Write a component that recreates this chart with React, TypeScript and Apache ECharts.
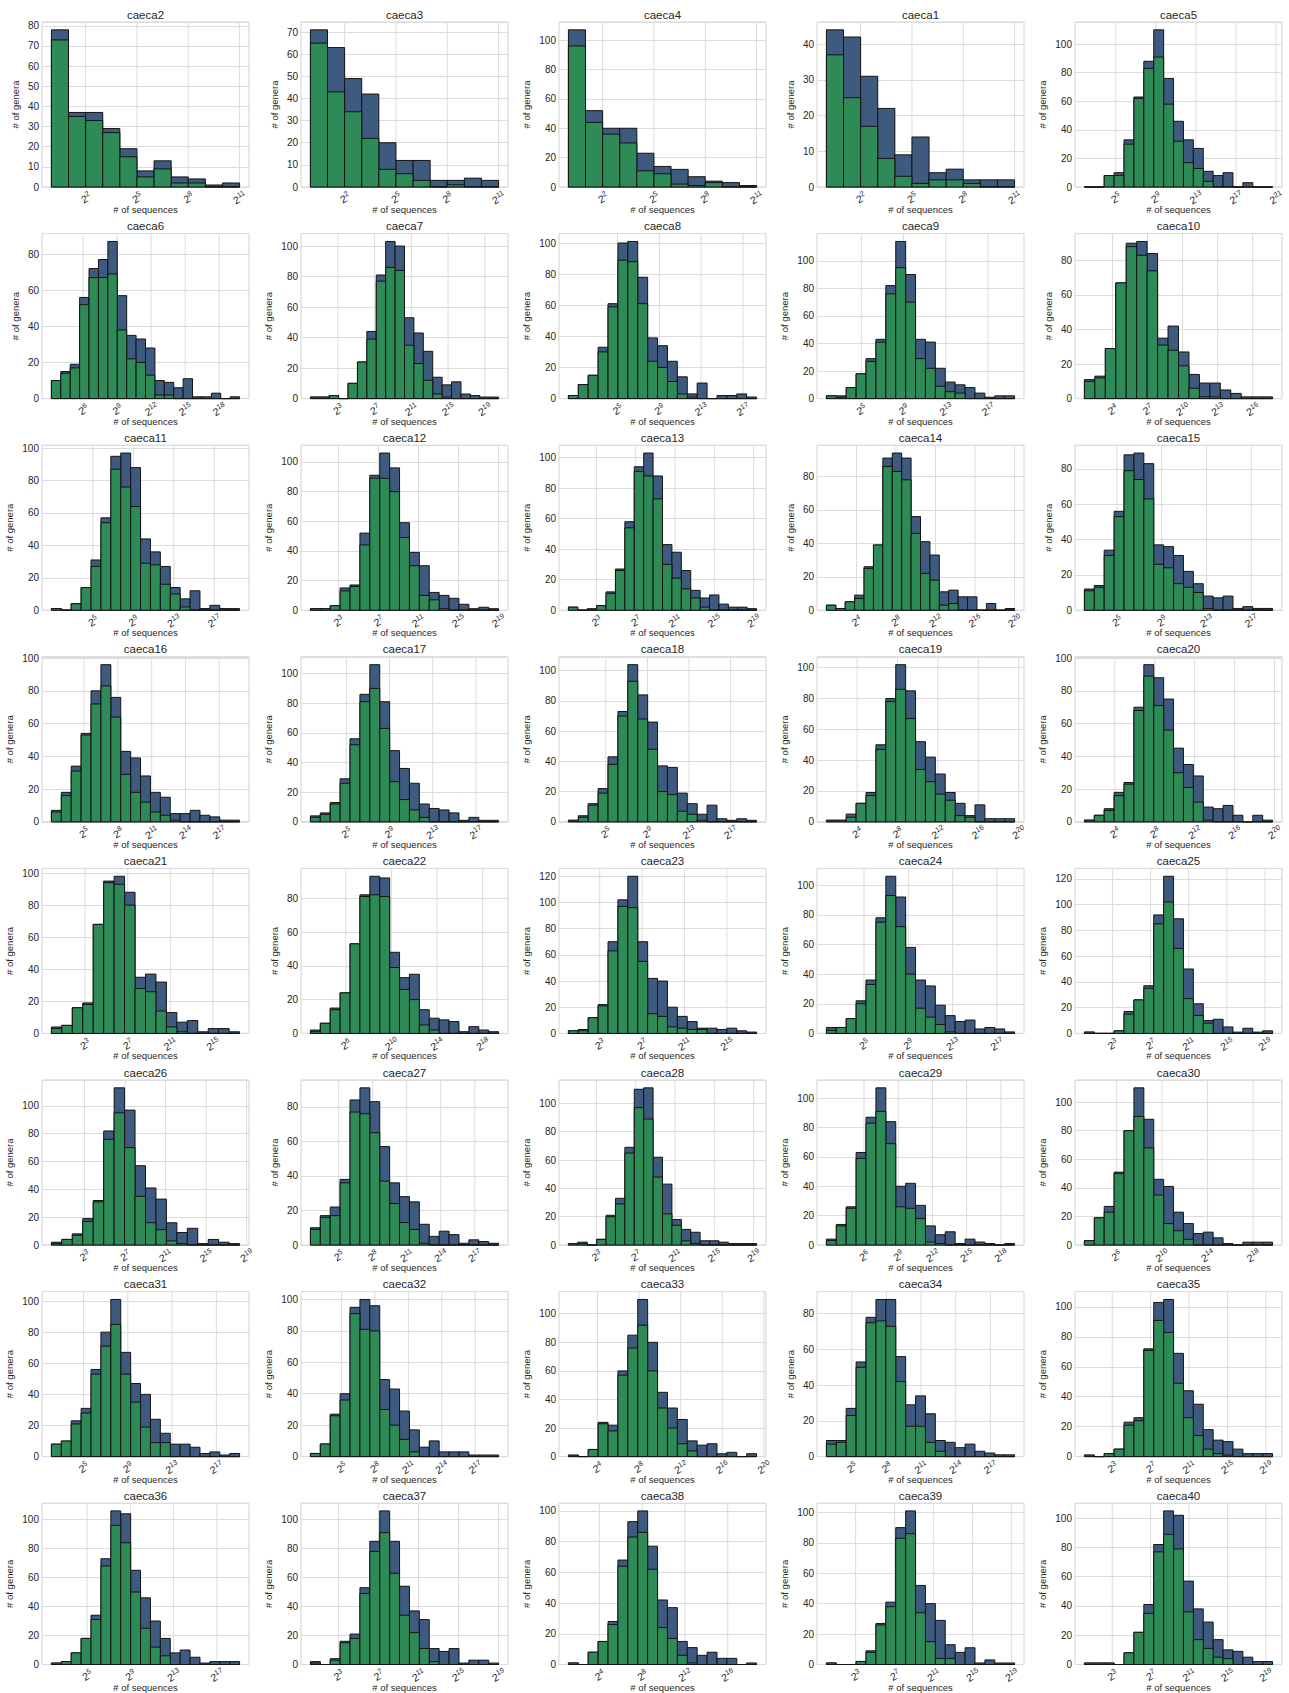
import React, { useEffect, useRef } from "react";
import * as echarts from "echarts";

// ---------------- data ----------------
const panelNames = [
  "caeca2", "caeca3", "caeca4", "caeca1", "caeca5",
  "caeca6", "caeca7", "caeca8", "caeca9", "caeca10",
  "caeca11", "caeca12", "caeca13", "caeca14", "caeca15",
  "caeca16", "caeca17", "caeca18", "caeca19", "caeca20",
  "caeca21", "caeca22", "caeca23", "caeca24", "caeca25",
  "caeca26", "caeca27", "caeca28", "caeca29", "caeca30",
  "caeca31", "caeca32", "caeca33", "caeca34", "caeca35",
  "caeca36", "caeca37", "caeca38", "caeca39", "caeca40",
];

// log2 of the lowest / highest bin edge of each panel
const binLo = [0, 0, 0, 0, 1.87, 3.2, 0, 0.3, 1.7, 1.6, 0.9, 0.2, 0.15, 0.96, 2.1, 2.1, 1.67, 1.4, 0.96, 0.96,
  -0.16, 2.9, 0.05, 1.6, 0.06, -0.26, 2.5, 0.15, 2.7, 3.2, 2.1, 2.2, 1.2, 2.8, 0.1, 1.7, 0.2, 1.1, 0, 0.1];
const binHi = [11, 11, 11, 11, 20.65, 19.8, 20.5, 18.3, 19.5, 17.7, 19.5, 19, 19.3, 20, 18.9, 18.8, 19.1, 19.5, 19.6, 19.8,
  17.5, 19.4, 17.8, 18.6, 19.8, 18.3, 19.1, 19.3, 19.2, 19.7, 19.1, 19.1, 19.3, 19.1, 19.7, 19.1, 19, 18.7, 19.3, 19.7];

// x tick labels: first labelled power of two and spacing between labels
const tickFirst = [2, 2, 2, 2, 5, 6, 3, 5, 5, 4, 5, 3, 3, 4, 5, 5, 5, 5, 4, 4, 3, 6, 3, 5, 3, 3, 5, 3, 6, 6, 5, 5, 4, 5, 3, 5, 3, 4, 3, 3];
const tickStep = [3, 3, 3, 3, 4, 3, 4, 4, 4, 3, 4, 4, 4, 4, 4, 3, 4, 4, 4, 4, 4, 4, 4, 4, 4, 4, 3, 4, 3, 4, 4, 3, 4, 3, 4, 4, 4, 4, 4, 4];

// counts per bin: all genera (blue) and subset (green)
const caeca2All = [78, 37, 37, 29, 19, 8, 13, 5, 4, 1, 2];
const caeca2Sub = [73, 35, 33, 27, 15, 5, 9, 2, 2, 0, 0];
const caeca3All = [71, 63, 49, 42, 20, 12, 12, 3, 3, 4, 3];
const caeca3Sub = [65, 43, 34, 22, 8, 6, 3, 0, 1, 0, 0];
const caeca4All = [107, 52, 40, 40, 23, 14, 12, 7, 4, 3, 1];
const caeca4Sub = [96, 44, 36, 30, 11, 9, 2, 1, 3, 0, 0];
const caeca1All = [44, 42, 31, 22, 9, 14, 4, 5, 2, 2, 2];
const caeca1Sub = [37, 25, 17, 8, 3, 1, 2, 2, 1, 0, 0];
const caeca5All = [0, 0, 8, 10, 33, 63, 88, 110, 76, 46, 33, 27, 11, 8, 10, 0, 3, 0, 0];
const caeca5Sub = [0, 0, 8, 8, 30, 62, 83, 91, 58, 32, 17, 13, 4, 0, 0, 0, 0, 0, 0];
const caeca6All = [10, 15, 19, 56, 72, 77, 87, 57, 35, 33, 28, 10, 9, 6, 11, 1, 1, 3, 0, 1];
const caeca6Sub = [10, 14, 17, 52, 67, 67, 69, 38, 22, 20, 13, 2, 2, 0, 0, 0, 0, 0, 0, 0];
const caeca7All = [1, 1, 2, 0, 10, 24, 44, 81, 103, 100, 53, 43, 31, 14, 9, 11, 3, 2, 1, 1];
const caeca7Sub = [1, 1, 2, 0, 10, 24, 39, 77, 86, 84, 35, 23, 12, 3, 1, 0, 0, 0, 0, 0];
const caeca8All = [2, 9, 15, 33, 61, 100, 101, 78, 39, 34, 24, 14, 3, 10, 0, 2, 2, 3, 1];
const caeca8Sub = [2, 9, 15, 30, 59, 89, 88, 61, 24, 20, 11, 3, 1, 0, 0, 0, 0, 0, 0];
const caeca9All = [2, 2, 8, 18, 29, 43, 82, 114, 90, 43, 41, 22, 12, 10, 8, 4, 1, 2, 2];
const caeca9Sub = [2, 1, 8, 18, 27, 41, 76, 95, 70, 29, 22, 9, 5, 4, 0, 0, 0, 0, 0];
const caeca10All = [11, 13, 29, 67, 90, 91, 84, 35, 42, 27, 14, 9, 9, 5, 3, 1, 1, 1];
const caeca10Sub = [10, 12, 29, 67, 88, 83, 74, 31, 28, 19, 6, 1, 1, 0, 0, 0, 0, 0];
const caeca11All = [1, 0, 4, 14, 31, 57, 95, 97, 88, 44, 36, 27, 14, 7, 12, 1, 3, 1, 1];
const caeca11Sub = [1, 0, 4, 14, 27, 54, 87, 76, 64, 29, 28, 16, 10, 2, 0, 0, 0, 0, 0];
const caeca12All = [1, 1, 3, 15, 17, 52, 91, 106, 96, 59, 39, 30, 12, 10, 8, 4, 1, 2, 1];
const caeca12Sub = [1, 1, 3, 13, 16, 44, 89, 89, 80, 49, 30, 10, 7, 1, 0, 0, 0, 0, 0];
const caeca13All = [2, 0, 1, 3, 12, 27, 58, 94, 103, 88, 43, 38, 26, 13, 8, 10, 4, 2, 2, 1];
const caeca13Sub = [2, 0, 0, 3, 11, 26, 54, 91, 88, 73, 30, 21, 14, 8, 2, 0, 0, 0, 0, 0];
const caeca14All = [3, 1, 5, 9, 26, 39, 91, 94, 91, 56, 41, 33, 11, 12, 8, 8, 0, 4, 0, 1];
const caeca14Sub = [3, 1, 5, 7, 25, 39, 86, 83, 78, 46, 22, 18, 3, 4, 0, 0, 0, 0, 0, 0];
const caeca15All = [12, 14, 34, 56, 88, 89, 83, 37, 36, 31, 22, 15, 8, 7, 8, 1, 2, 1, 1];
const caeca15Sub = [11, 13, 31, 53, 79, 74, 63, 26, 24, 15, 13, 10, 1, 0, 0, 0, 0, 0, 0];
const caeca16All = [7, 18, 34, 54, 80, 96, 76, 43, 39, 28, 18, 15, 5, 5, 7, 4, 3, 1, 1];
const caeca16Sub = [6, 16, 31, 53, 72, 83, 64, 29, 18, 12, 6, 4, 1, 0, 0, 0, 0, 0, 0];
const caeca17All = [4, 6, 13, 29, 56, 86, 106, 81, 48, 36, 26, 12, 9, 8, 6, 1, 3, 1, 1];
const caeca17Sub = [3, 5, 12, 26, 52, 81, 90, 63, 27, 15, 8, 3, 0, 0, 0, 0, 0, 0, 0];
const caeca18All = [1, 4, 12, 22, 43, 73, 104, 84, 66, 37, 36, 19, 12, 5, 11, 2, 1, 2, 1];
const caeca18Sub = [1, 3, 11, 19, 38, 70, 93, 68, 48, 20, 18, 7, 5, 1, 0, 0, 0, 0, 0];
const caeca19All = [1, 1, 5, 12, 19, 50, 80, 102, 85, 52, 42, 31, 19, 12, 4, 11, 2, 2, 2];
const caeca19Sub = [1, 1, 3, 12, 17, 47, 78, 86, 67, 34, 26, 18, 14, 4, 3, 0, 0, 0, 0];
const caeca20All = [1, 4, 8, 18, 24, 70, 96, 88, 75, 45, 35, 28, 9, 8, 10, 4, 0, 4, 1];
const caeca20Sub = [1, 4, 7, 16, 23, 68, 89, 71, 56, 30, 21, 12, 1, 0, 0, 0, 0, 0, 0];
const caeca21All = [4, 5, 16, 19, 68, 95, 98, 88, 35, 37, 32, 13, 7, 8, 1, 3, 3, 1];
const caeca21Sub = [3, 5, 16, 18, 68, 94, 93, 80, 28, 26, 14, 4, 1, 0, 0, 0, 0, 0];
const caeca22All = [2, 6, 15, 24, 53, 82, 93, 92, 48, 33, 35, 14, 9, 8, 7, 1, 4, 2, 1];
const caeca22Sub = [1, 6, 14, 24, 53, 81, 82, 81, 39, 26, 20, 5, 2, 0, 0, 0, 0, 0, 0];
const caeca23All = [2, 3, 12, 22, 70, 102, 120, 70, 42, 40, 20, 13, 9, 4, 4, 3, 4, 2, 1];
const caeca23Sub = [2, 2, 12, 21, 63, 97, 96, 55, 15, 13, 5, 4, 3, 3, 0, 0, 0, 0, 0];
const caeca24All = [4, 4, 10, 22, 36, 78, 106, 92, 58, 36, 32, 19, 12, 8, 9, 3, 4, 3, 1];
const caeca24Sub = [2, 4, 10, 20, 33, 75, 93, 72, 40, 17, 11, 6, 1, 0, 0, 0, 0, 0, 0];
const caeca25All = [1, 0, 0, 2, 17, 26, 37, 92, 122, 89, 50, 23, 10, 11, 5, 1, 4, 1, 2];
const caeca25Sub = [1, 0, 0, 2, 15, 26, 35, 85, 102, 66, 27, 14, 8, 0, 0, 0, 0, 0, 0];
const caeca26All = [2, 4, 8, 19, 32, 82, 113, 97, 57, 41, 33, 16, 9, 12, 1, 4, 2, 1];
const caeca26Sub = [1, 4, 7, 17, 31, 76, 95, 70, 35, 16, 11, 3, 1, 0, 0, 0, 0, 0];
const caeca27All = [10, 17, 22, 38, 84, 91, 83, 57, 36, 28, 25, 12, 5, 8, 6, 1, 3, 2, 1];
const caeca27Sub = [9, 16, 17, 36, 77, 76, 65, 37, 24, 13, 9, 1, 0, 0, 0, 0, 0, 0, 0];
const caeca28All = [1, 2, 0, 4, 21, 33, 69, 110, 111, 62, 43, 18, 11, 9, 3, 3, 2, 1, 1, 1];
const caeca28Sub = [1, 1, 0, 4, 20, 29, 65, 97, 89, 48, 22, 14, 3, 1, 0, 0, 0, 0, 0, 0];
const caeca29All = [4, 14, 26, 63, 87, 107, 84, 40, 42, 27, 13, 7, 9, 1, 4, 2, 1, 0, 1];
const caeca29Sub = [3, 13, 25, 59, 83, 91, 69, 26, 25, 18, 2, 1, 0, 0, 0, 0, 0, 0, 0];
const caeca30All = [3, 19, 27, 51, 80, 110, 88, 46, 41, 23, 15, 8, 9, 5, 1, 0, 2, 2, 2];
const caeca30Sub = [3, 19, 23, 50, 80, 90, 68, 35, 15, 10, 4, 0, 0, 0, 0, 0, 0, 0, 0];
const caeca31All = [8, 10, 23, 31, 56, 80, 101, 67, 47, 40, 24, 15, 8, 8, 6, 2, 3, 1, 2];
const caeca31Sub = [8, 10, 21, 28, 53, 71, 85, 53, 35, 19, 9, 9, 0, 0, 0, 0, 0, 0, 0];
const caeca32All = [2, 8, 27, 40, 95, 100, 96, 49, 43, 29, 17, 6, 10, 3, 3, 3, 1, 1, 1];
const caeca32Sub = [2, 8, 26, 36, 91, 81, 80, 30, 20, 11, 3, 0, 0, 0, 0, 0, 0, 0, 0];
const caeca33All = [1, 0, 5, 24, 22, 60, 85, 110, 80, 45, 34, 26, 11, 8, 9, 2, 3, 0, 2];
const caeca33Sub = [1, 0, 5, 23, 18, 57, 76, 92, 60, 34, 20, 9, 4, 0, 0, 0, 0, 0, 0];
const caeca34All = [9, 9, 27, 53, 78, 88, 88, 56, 29, 34, 24, 9, 8, 5, 7, 3, 2, 1, 1];
const caeca34Sub = [7, 8, 23, 50, 75, 76, 73, 42, 17, 17, 8, 3, 0, 0, 0, 0, 0, 0, 0];
const caeca35All = [1, 0, 2, 5, 23, 26, 72, 103, 105, 69, 44, 35, 18, 11, 10, 5, 2, 2, 2];
const caeca35Sub = [1, 0, 2, 5, 21, 24, 71, 91, 83, 49, 26, 14, 5, 2, 1, 0, 0, 0, 0];
const caeca36All = [1, 2, 8, 18, 34, 73, 106, 104, 65, 46, 30, 18, 8, 10, 5, 1, 2, 2, 2];
const caeca36Sub = [1, 2, 8, 18, 31, 68, 96, 84, 50, 25, 12, 6, 0, 0, 0, 0, 0, 0, 0];
const caeca37All = [2, 0, 4, 16, 21, 53, 85, 106, 85, 54, 37, 31, 11, 9, 11, 1, 3, 3, 1];
const caeca37Sub = [1, 0, 3, 15, 18, 49, 78, 91, 63, 34, 22, 11, 2, 0, 0, 0, 0, 0, 0];
const caeca38All = [1, 0, 8, 15, 28, 68, 93, 100, 77, 42, 37, 15, 11, 6, 8, 4, 4, 0, 1];
const caeca38Sub = [1, 0, 8, 15, 26, 64, 83, 86, 62, 24, 17, 6, 1, 0, 0, 0, 0, 0, 0];
const caeca39All = [1, 0, 0, 2, 9, 27, 41, 90, 101, 52, 40, 29, 13, 8, 11, 1, 3, 1, 1];
const caeca39Sub = [1, 0, 0, 2, 8, 26, 38, 83, 86, 34, 15, 4, 4, 0, 0, 0, 0, 0, 0];
const caeca40All = [1, 1, 1, 0, 8, 22, 41, 82, 105, 102, 57, 38, 29, 17, 10, 9, 5, 2, 2];
const caeca40Sub = [1, 1, 1, 0, 8, 22, 35, 77, 89, 79, 36, 17, 11, 5, 4, 0, 0, 0, 0];

const allCounts = [
  caeca2All, caeca3All, caeca4All, caeca1All, caeca5All,
  caeca6All, caeca7All, caeca8All, caeca9All, caeca10All,
  caeca11All, caeca12All, caeca13All, caeca14All, caeca15All,
  caeca16All, caeca17All, caeca18All, caeca19All, caeca20All,
  caeca21All, caeca22All, caeca23All, caeca24All, caeca25All,
  caeca26All, caeca27All, caeca28All, caeca29All, caeca30All,
  caeca31All, caeca32All, caeca33All, caeca34All, caeca35All,
  caeca36All, caeca37All, caeca38All, caeca39All, caeca40All,
];
const subCounts = [
  caeca2Sub, caeca3Sub, caeca4Sub, caeca1Sub, caeca5Sub,
  caeca6Sub, caeca7Sub, caeca8Sub, caeca9Sub, caeca10Sub,
  caeca11Sub, caeca12Sub, caeca13Sub, caeca14Sub, caeca15Sub,
  caeca16Sub, caeca17Sub, caeca18Sub, caeca19Sub, caeca20Sub,
  caeca21Sub, caeca22Sub, caeca23Sub, caeca24Sub, caeca25Sub,
  caeca26Sub, caeca27Sub, caeca28Sub, caeca29Sub, caeca30Sub,
  caeca31Sub, caeca32Sub, caeca33Sub, caeca34Sub, caeca35Sub,
  caeca36Sub, caeca37Sub, caeca38Sub, caeca39Sub, caeca40Sub,
];

// ---------------- style / layout ----------------
const FONT = "'Liberation Sans', Arial, Helvetica, sans-serif";
const TEXT = "#262626";
const BLUE = "#3e5a7e";
const GREEN = "#2e8b57";
const EDGE = "#141414";
const GRIDC = "#dcdcdc";
const colLeft = [42, 301, 559, 817, 1075];
const plotW = 207;
const plotH = 165;
const rowTop0 = 22;
const rowPitch = 211.6;

function barRender(color: string) {
  return (_p: any, api: any) => {
    const x0 = api.value(0);
    const x1 = api.value(1);
    const y = api.value(2);
    const a = api.coord([x0, y]);
    const b = api.coord([x1, 0]);
    return {
      type: "rect",
      shape: { x: a[0], y: a[1], width: b[0] - a[0], height: b[1] - a[1] },
      style: { fill: color, stroke: EDGE, lineWidth: 1 },
    };
  };
}

// rotated "2^n" tick label drawn at the axis position of tick n
function tickLabelRender(_p: any, api: any) {
  const t = api.value(0);
  const p = api.coord([t, 0]);
  const s = String(Math.round(t));
  const bw = 5.8;
  const sw = 4 * s.length;
  const tw = bw + sw;
  return {
    type: "group",
    x: p[0],
    y: p[1] + 10.5,
    rotation: Math.PI / 6,
    children: [
      {
        type: "text", x: -tw / 2, y: 1,
        style: { text: "2", font: `10.5px ${FONT}`, fill: TEXT, textAlign: "left", textVerticalAlign: "middle" },
      },
      {
        type: "text", x: -tw / 2 + bw, y: -2.5,
        style: { text: s, font: `7.3px ${FONT}`, fill: TEXT, textAlign: "left", textVerticalAlign: "middle" },
      },
    ],
  };
}

function buildOption() {
  const grid: any[] = [];
  const xAxis: any[] = [];
  const yAxis: any[] = [];
  const series: any[] = [];
  const graphic: any[] = [];

  panelNames.forEach((name, i) => {
    const r = Math.floor(i / 5);
    const c = i % 5;
    const left = colLeft[c];
    const top = rowTop0 + r * rowPitch;
    const all = allCounts[i];
    const sub = subCounts[i];
    const n = all.length;
    const lo = binLo[i];
    const hi = binHi[i];
    const w = (hi - lo) / n;
    const pad = 0.05 * (hi - lo);
    const xMin = lo - pad;
    const xMax = hi + pad;
    const ticks: number[] = [];
    for (let t = tickFirst[i]; t <= xMax + 1e-9; t += tickStep[i]) {
      if (t >= xMin) ticks.push(t);
    }
    const peak = Math.max(...all);
    const yMax = peak * 1.05;
    const yStep = yMax > 85 ? 20 : 10;

    grid.push({
      left, top, width: plotW, height: plotH,
      show: true, borderColor: "#d2d2d2", borderWidth: 1, backgroundColor: "#ffffff",
    });

    graphic.push({
      type: "text",
      x: left + plotW / 2,
      y: top - 7.5,
      silent: true,
      style: {
        text: name, fill: TEXT, font: `11.5px ${FONT}`,
        textAlign: "center", textVerticalAlign: "middle",
      },
    });

    xAxis.push({
      gridIndex: i, type: "value", min: xMin, max: xMax,
      axisLine: { show: false }, axisTick: { show: false }, splitLine: { show: false },
      axisLabel: { show: false },
      name: "# of sequences",
      nameLocation: "middle",
      nameGap: 17.5,
      nameMoveOverlap: false,
      nameTextStyle: { fontSize: 9.5, color: TEXT, fontFamily: FONT },
    });

    yAxis.push({
      gridIndex: i, type: "value", min: 0, max: yMax, interval: yStep,
      axisLine: { show: false }, axisTick: { show: false },
      splitLine: { show: true, lineStyle: { color: GRIDC, width: 1 } },
      axisLabel: {
        fontSize: 10, color: TEXT, fontFamily: FONT, margin: 3,
        formatter: (v: number) => (Math.abs(v % yStep) < 1e-6 ? String(Math.round(v)) : ""),
      },
      name: "# of genera",
      nameLocation: "middle",
      nameGap: yMax >= 100 ? 28 : 22,
      nameMoveOverlap: false,
      nameTextStyle: { fontSize: 9.5, color: TEXT, fontFamily: FONT },
    });

    const tickData = ticks.map((t) => [t, 0]);
    series.push({
      type: "custom", xAxisIndex: i, yAxisIndex: i, z: 1, silent: true,
      data: tickData,
      encode: { x: 0, y: 1 },
      renderItem: (_p: any, api: any) => {
        const t = api.value(0);
        const pb = api.coord([t, 0]);
        const pt = api.coord([t, yMax]);
        return {
          type: "line",
          shape: { x1: pb[0], y1: pt[1], x2: pb[0], y2: pb[1] },
          style: { stroke: GRIDC, lineWidth: 1 },
        };
      },
    });
    series.push({
      type: "custom", xAxisIndex: i, yAxisIndex: i, z: 2, silent: true,
      data: all.map((v, j) => [lo + j * w, lo + (j + 1) * w, v]),
      encode: { x: [0, 1], y: 2 },
      renderItem: barRender(BLUE),
    });
    series.push({
      type: "custom", xAxisIndex: i, yAxisIndex: i, z: 3, silent: true,
      data: sub.map((v, j) => [lo + j * w, lo + (j + 1) * w, v]),
      encode: { x: [0, 1], y: 2 },
      renderItem: barRender(GREEN),
    });
    series.push({
      type: "custom", xAxisIndex: i, yAxisIndex: i, z: 4, silent: true, clip: false,
      data: tickData,
      encode: { x: 0, y: 1 },
      renderItem: tickLabelRender,
    });
  });

  return {
    animation: false,
    backgroundColor: "#ffffff",
    textStyle: { fontFamily: FONT },
    grid, xAxis, yAxis, series, graphic,
  };
}

export default function App() {
  const ref = useRef<HTMLDivElement>(null);
  useEffect(() => {
    document.body.style.margin = "0";
    const chart = echarts.init(ref.current as HTMLDivElement, null, { renderer: "svg" });
    chart.setOption(buildOption() as any);
    return () => chart.dispose();
  }, []);
  return <div ref={ref} style={{ width: 1289, height: 1693, background: "#fff" }} />;
}
